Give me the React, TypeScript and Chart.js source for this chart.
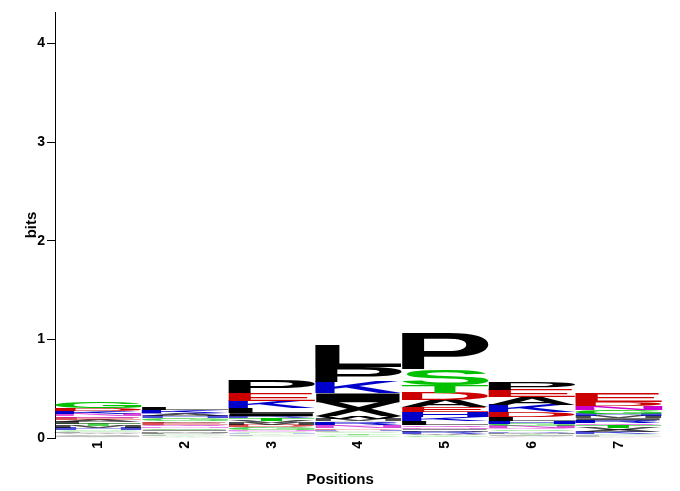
import React, { useEffect, useRef } from "react";
import { Chart, registerables } from "chart.js";

Chart.register(...registerables);

// Positions (x categories)
const positions = ["1", "2", "3", "4", "5", "6", "7"];
const yMax = 4.32;
const yTickValues = [0, 1, 2, 3, 4];

// Letters of each position, listed top -> bottom, with their heights in bits
const letters1 = ["G", "D", "R", "K", "N", "Q", "E", "A", "L", "T", "M", "H", "S", "C", "F", "W", "V", "I", "Y"];
const bits1 = [0.07, 0.03, 0.01, 0.025, 0.02, 0.02, 0.02, 0.02, 0.02, 0.02, 0.02, 0.02, 0.01, 0.012, 0.012, 0.012, 0.012, 0.012, 0.012];

const letters2 = ["L", "K", "R", "A", "H", "T", "G", "V", "E", "Q", "N", "S", "I", "M", "P", "C", "F", "Y", "W"];
const bits2 = [0.025, 0.03, 0.015, 0.02, 0.02, 0.01, 0.02, 0.015, 0.02, 0.02, 0.015, 0.015, 0.015, 0.015, 0.015, 0.01, 0.01, 0.01, 0.01];

const letters3 = ["P", "E", "K", "L", "I", "R", "T", "V", "M", "D", "A", "G", "N", "Q", "S", "H", "Y", "F", "C", "W"];
const bits3 = [0.132, 0.081, 0.071, 0.051, 0.03, 0.02, 0.03, 0.02, 0.02, 0.02, 0.01, 0.02, 0.015, 0.01, 0.01, 0.01, 0.01, 0.01, 0.008, 0.008];

const letters4 = ["L", "P", "K", "I", "X", "W", "M", "A", "R", "Q", "N", "D", "H", "F", "S", "T", "Y", "C", "G"];
const bits4 = [0.213, 0.152, 0.112, 0.091, 0.142, 0.03, 0.02, 0.01, 0.03, 0.01, 0.02, 0.015, 0.015, 0.01, 0.01, 0.015, 0.01, 0.01, 0.015];

const letters5 = ["P", "S", "T", "D", "A", "E", "H", "K", "L", "Q", "N", "I", "M", "R", "W", "Y", "G"];
const bits5 = [0.365, 0.162, 0.081, 0.071, 0.071, 0.051, 0.051, 0.041, 0.041, 0.02, 0.015, 0.015, 0.015, 0.02, 0.015, 0.01, 0.02];

const letters6 = ["P", "E", "A", "K", "D", "L", "H", "G", "N", "Q", "S", "R", "M", "T", "I", "V", "F"];
const bits6 = [0.071, 0.071, 0.081, 0.071, 0.051, 0.041, 0.03, 0.02, 0.02, 0.015, 0.015, 0.015, 0.015, 0.01, 0.01, 0.01, 0.01];

const letters7 = ["E", "D", "N", "G", "H", "M", "I", "R", "Q", "T", "V", "A", "K", "S", "L", "F", "W"];
const bits7 = [0.091, 0.041, 0.041, 0.041, 0.02, 0.02, 0.02, 0.03, 0.02, 0.03, 0.02, 0.02, 0.02, 0.01, 0.01, 0.01, 0.01];

const columnLetters = [letters1, letters2, letters3, letters4, letters5, letters6, letters7];
const columnBits = [bits1, bits2, bits3, bits4, bits5, bits6, bits7];

// Chemistry colour scheme
const GREEN = "#00c000";
const BLUE = "#0000cc";
const RED = "#cc0000";
const PURPLE = "#cc00cc";
const BLACK = "#000000";
const letterColor: Record<string, string> = {
  G: GREEN, S: GREEN, T: GREEN, Y: GREEN, C: GREEN,
  N: PURPLE, Q: PURPLE,
  K: BLUE, R: BLUE, H: BLUE,
  D: RED, E: RED,
  P: BLACK, A: BLACK, W: BLACK, F: BLACK, L: BLACK, I: BLACK, M: BLACK, V: BLACK, X: BLACK,
};

const FONT = '"Liberation Sans", Arial, Helvetica, sans-serif';

export default function App() {
  const ref = useRef<HTMLCanvasElement | null>(null);

  useEffect(() => {
    document.body.style.margin = "0";
    const canvas = ref.current;
    if (!canvas) return;

    // bottom -> top order per column
    const bottomUpLetters = columnLetters.map((l) => l.slice().reverse());
    const bottomUpBits = columnBits.map((b) => b.slice().reverse());
    const maxLen = Math.max(...bottomUpLetters.map((l) => l.length));

    const datasets = [] as any[];
    for (let r = 0; r < maxLen; r++) {
      datasets.push({
        label: "rank" + r,
        data: bottomUpBits.map((b) => (b[r] !== undefined ? b[r] : 0)),
        backgroundColor: "rgba(0,0,0,0)",
        borderWidth: 0,
        barPercentage: 1,
        categoryPercentage: 1,
      });
    }

    const glyphPlugin = {
      id: "glyphs",
      afterDatasetsDraw(chart: any) {
        const ctx = chart.ctx as CanvasRenderingContext2D;
        chart.data.datasets.forEach((_ds: any, i: number) => {
          const meta = chart.getDatasetMeta(i);
          meta.data.forEach((bar: any, c: number) => {
            const letter = bottomUpLetters[c][i];
            if (!letter) return;
            const p = bar.getProps(["x", "y", "base", "width"], true);
            const top = Math.min(p.y, p.base);
            const h = Math.abs(p.base - p.y);
            if (h <= 0) return;
            const left = p.x - p.width / 2;
            ctx.save();
            ctx.font = "bold 200px " + FONT;
            ctx.textAlign = "left";
            ctx.textBaseline = "alphabetic";
            const m = ctx.measureText(letter);
            const gl = m.actualBoundingBoxLeft;
            const gw = m.actualBoundingBoxLeft + m.actualBoundingBoxRight;
            const ga = m.actualBoundingBoxAscent;
            const gh = m.actualBoundingBoxAscent + m.actualBoundingBoxDescent;
            // very thin glyphs look faint, as in a rasterised logo
            ctx.globalAlpha = Math.min(1, Math.pow(h / 2.5, 1.5));
            ctx.translate(left, top);
            ctx.scale(p.width / gw, h / gh);
            ctx.fillStyle = letterColor[letter] || BLACK;
            ctx.fillText(letter, gl, ga);
            ctx.restore();
          });
        });
      },
      afterDraw(chart: any) {
        const ctx = chart.ctx as CanvasRenderingContext2D;
        ctx.save();
        ctx.font = "bold 15px " + FONT;
        ctx.fillStyle = "#000";
        ctx.textAlign = "center";
        ctx.textBaseline = "middle";
        ctx.fillText("Positions", 340, 480);
        ctx.restore();
      },
    };

    const chart = new Chart(canvas, {
      type: "bar",
      data: { labels: positions, datasets },
      plugins: [glyphPlugin],
      options: {
        animation: false,
        responsive: false,
        devicePixelRatio: 1,
        layout: { padding: { left: 0, right: 18, top: 12, bottom: 0 } },
        plugins: { legend: { display: false }, tooltip: { enabled: false } },
        scales: {
          x: {
            type: "category",
            stacked: true,
            offset: true,
            grid: { display: false, drawTicks: false },
            border: { display: false },
            ticks: {
              autoSkip: false,
              minRotation: 90,
              maxRotation: 90,
              padding: 3,
              color: "#000",
              font: { family: FONT, size: 14, weight: "bold" },
            },
            afterFit(scale: any) {
              scale.height = 53;
            },
          },
          y: {
            stacked: true,
            min: 0,
            max: yMax,
            afterBuildTicks(scale: any) {
              scale.ticks = yTickValues.map((v) => ({ value: v }));
            },
            grid: {
              display: true,
              drawOnChartArea: false,
              drawTicks: true,
              tickLength: 8,
              color: "#000",
              lineWidth: 1,
            },
            border: { display: true, color: "#000", width: 1 },
            ticks: {
              padding: 2,
              color: "#000",
              font: { family: FONT, size: 14, weight: "bold" },
              callback: (v: any) => String(v),
            },
            title: {
              display: true,
              text: "bits",
              color: "#000",
              font: { family: FONT, size: 15, weight: "bold" },
              padding: { top: 23, bottom: 0 },
            },
            afterFit(scale: any) {
              scale.width = 55;
            },
          },
        },
      },
    });

    return () => chart.destroy();
  }, []);

  return (
    <canvas
      ref={ref}
      width={680}
      height={491}
      style={{ display: "block", width: 680, height: 491 }}
    />
  );
}
